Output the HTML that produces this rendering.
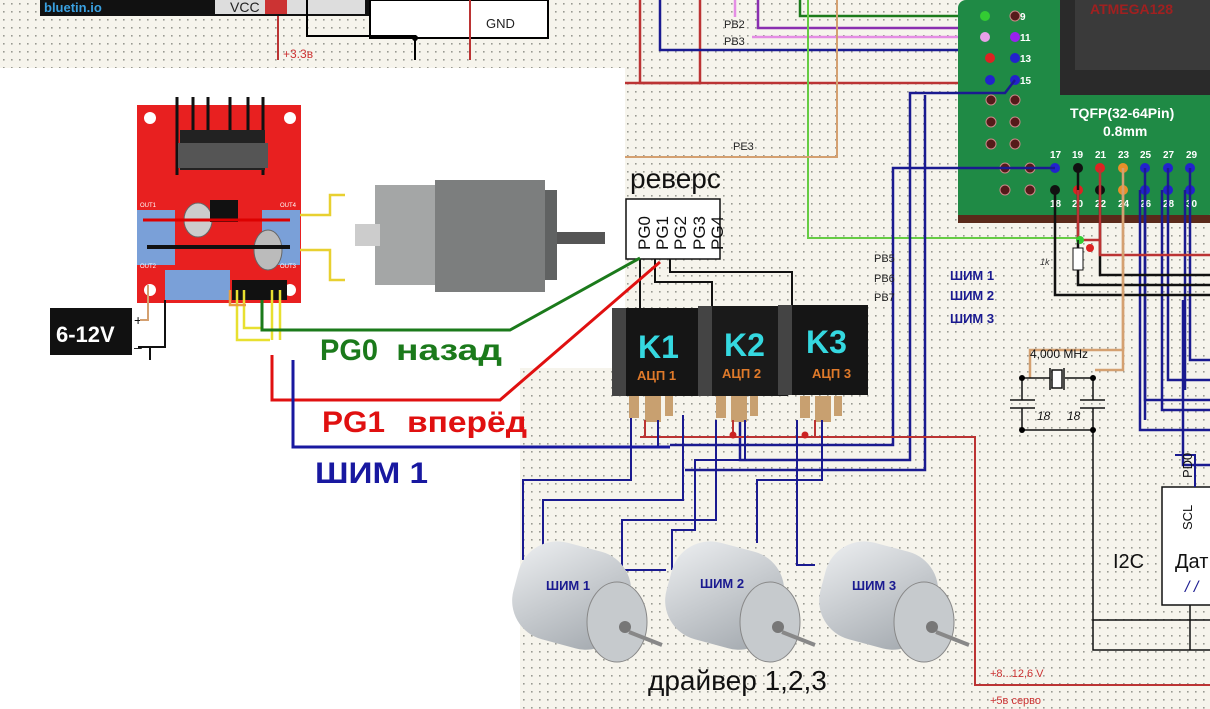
<!DOCTYPE html>
<html><head><meta charset="utf-8"><style>
html,body{margin:0;padding:0;width:1210px;height:709px;overflow:hidden;background:#fff}
svg{display:block}
text{font-family:"Liberation Sans",sans-serif}
</style></head><body>
<svg width="1210" height="709" viewBox="0 0 1210 709" xmlns="http://www.w3.org/2000/svg">
<defs>
<pattern id="dots" width="8" height="8" patternUnits="userSpaceOnUse">
<rect width="8" height="8" fill="#f6f4ec"/><rect x="3" y="3" width="1.6" height="1.6" fill="#9a9a92"/>
</pattern>
<linearGradient id="mg" x1="0" y1="0" x2="1" y2="1"><stop offset="0" stop-color="#eef0f2"/><stop offset="1" stop-color="#9ea4aa"/></linearGradient>
</defs>
<rect width="1210" height="709" fill="url(#dots)"/>
<rect x="0" y="68" width="625" height="300" fill="#fff"/>
<rect x="0" y="360" width="520" height="349" fill="#fff"/>

<!-- top left -->
<rect x="40" y="0" width="330" height="16" fill="#111"/>
<text x="44" y="12" font-size="13" font-weight="bold" fill="#3aa0e0">bluetin.io</text>
<rect x="215" y="0" width="150" height="14" fill="#ddd"/>
<text x="230" y="12" font-size="14" fill="#222">VCC</text>
<rect x="265" y="0" width="22" height="14" fill="#c33"/>
<rect x="370" y="0" width="178" height="38" fill="#fff" stroke="#000" stroke-width="2"/>
<text x="486" y="28" font-size="13" fill="#222">GND</text>
<path d="M278 16V60 M470 0V60" stroke="#b33" stroke-width="2"/>
<path d="M307 0V36H415V60" stroke="#000" stroke-width="2" fill="none"/>
<circle cx="415" cy="38" r="3"/>
<text x="283" y="58" font-size="12" fill="#c33">+3.3в</text>

<!-- top right wires -->
<path d="M640 0V83H960" stroke="#b33" stroke-width="2.5" fill="none"/>
<path d="M625 83H700V0" stroke="#b33" stroke-width="2.5" fill="none"/>
<path d="M660 0V50H1010V60" stroke="#1a1a90" stroke-width="2.5" fill="none"/>
<path d="M735 0V37H960" stroke="#e48de4" stroke-width="2.5" fill="none"/>
<path d="M758 0V28H1015" stroke="#8a2fb0" stroke-width="2.5" fill="none"/>
<path d="M800 0V16H960" stroke="#1b7a1b" stroke-width="2.5" fill="none"/>
<path d="M808 0V238H1080" stroke="#66cc44" stroke-width="2" fill="none"/>
<path d="M837 0V157H625" stroke="#d4a070" stroke-width="2" fill="none"/>
<rect x="722" y="17" width="30" height="30" fill="url(#dots)"/>
<text x="724" y="28" font-size="11" fill="#222">PB2</text>
<text x="724" y="45" font-size="11" fill="#222">PB3</text>
<text x="733" y="150" font-size="11" fill="#222">PE3</text>

<!-- PCB -->
<rect x="958" y="0" width="252" height="222" rx="8" fill="#1f8a45"/>
<rect x="1060" y="0" width="150" height="95" fill="#2a2a2a"/>
<rect x="1075" y="0" width="135" height="70" fill="#3a3a3a"/>
<text x="1090" y="14" font-size="14" font-weight="bold" fill="#a02020">ATMEGA128</text>
<text x="1070" y="118" font-size="14" font-weight="bold" fill="#fff">TQFP(32-64Pin)</text>
<text x="1103" y="136" font-size="14" font-weight="bold" fill="#fff">0.8mm</text>
<g fill="#551a1a" stroke="#c88" stroke-width="1">
<circle cx="1015" cy="16" r="5"/><circle cx="1015" cy="122" r="5"/><circle cx="991" cy="122" r="5"/>
<circle cx="991" cy="144" r="5"/><circle cx="1015" cy="144" r="5"/><circle cx="1015" cy="100" r="5"/><circle cx="991" cy="100" r="5"/>
<circle cx="1005" cy="190" r="5"/><circle cx="1030" cy="190" r="5"/><circle cx="1030" cy="168" r="5"/><circle cx="1005" cy="168" r="5"/>
</g>
<circle cx="985" cy="16" r="5" fill="#3c3"/><circle cx="985" cy="37" r="5" fill="#e8a0e8"/><circle cx="1015" cy="37" r="5" fill="#92e"/>
<circle cx="990" cy="58" r="5" fill="#d22"/><circle cx="1015" cy="58" r="5" fill="#22c"/><circle cx="990" cy="80" r="5" fill="#22c"/><circle cx="1015" cy="80" r="5" fill="#22c"/>
<g font-size="10" fill="#fff" font-weight="bold"><text x="1020" y="20">9</text><text x="1020" y="41">11</text><text x="1020" y="62">13</text><text x="1020" y="84">15</text>
<text x="1050" y="158">17</text><text x="1072" y="158">19</text><text x="1095" y="158">21</text><text x="1118" y="158">23</text><text x="1140" y="158">25</text><text x="1163" y="158">27</text><text x="1186" y="158">29</text>
<text x="1050" y="207">18</text><text x="1072" y="207">20</text><text x="1095" y="207">22</text><text x="1118" y="207">24</text><text x="1140" y="207">26</text><text x="1163" y="207">28</text><text x="1186" y="207">30</text></g>
<g>
<circle cx="1055" cy="168" r="5" fill="#22c"/><circle cx="1078" cy="168" r="5" fill="#111"/><circle cx="1100" cy="168" r="5" fill="#d22"/><circle cx="1123" cy="168" r="5" fill="#e8902a"/><circle cx="1145" cy="168" r="5" fill="#22c"/><circle cx="1168" cy="168" r="5" fill="#22c"/><circle cx="1190" cy="168" r="5" fill="#22c"/>
<circle cx="1055" cy="190" r="5" fill="#111"/><circle cx="1078" cy="190" r="5" fill="#d22"/><circle cx="1100" cy="190" r="5" fill="#111"/><circle cx="1123" cy="190" r="5" fill="#e8902a"/><circle cx="1145" cy="190" r="5" fill="#22c"/><circle cx="1168" cy="190" r="5" fill="#22c"/><circle cx="1190" cy="190" r="5" fill="#22c"/>
</g>
<rect x="958" y="215" width="252" height="8" fill="#5a2a1a"/>

<!-- right side wires -->
<g fill="none" stroke-width="2.5">
<path d="M1015 80L1005 93H910V460H740V420" stroke="#1a1a90"/>
<path d="M1055 168H893V445H670" stroke="#1a1a90"/>
<path d="M925 95V470H685" stroke="#1a1a90"/>
<path d="M1145 168V400H1210 M1168 168V380H1210 M1190 168V360H1210 M1140 190V430H1210 M1162 190V410H1210" stroke="#1a1a90"/>
<path d="M1145 190V420" stroke="#1a1a90"/>
<path d="M1185 190V390" stroke="#1a1a90"/>
<path d="M1078 168V285H1210" stroke="#111"/>
<path d="M1055 190V295H1210" stroke="#111"/>
<path d="M1100 190V275H1210" stroke="#111"/>
<path d="M1078 190V240H1100V255H1210" stroke="#b33"/>
<path d="M1100 168V255" stroke="#b33"/>
<path d="M1123 168V350H1030V378" stroke="#d4a070"/>
<path d="M1123 190V370H1095" stroke="#d4a070"/>
<path d="M1183 300V465H1210" stroke="#1a1a90"/>
</g>
<rect x="1073" y="248" width="10" height="22" fill="#fff" stroke="#111"/>
<circle cx="1080" cy="240" r="4" fill="#3c3"/><circle cx="1090" cy="248" r="4" fill="#d22"/>
<path d="M1078 240V248 M1078 270V280" stroke="#111" stroke-width="1.5"/>
<text x="1040" y="265" font-size="9" fill="#333" font-style="italic">1k</text>

<!-- crystal -->
<text x="1030" y="358" font-size="12" fill="#111">4,000 MHz</text>
<g stroke="#111" stroke-width="1.5" fill="none">
<path d="M1022 378H1050 M1065 378H1093"/>
<rect x="1052" y="370" width="10" height="18" fill="#fff"/>
<path d="M1050 368V390 M1064 368V390"/>
<path d="M1022 378V400 M1093 378V400 M1010 400H1035 M1010 408H1035 M1080 400H1105 M1080 408H1105 M1022 408V430H1093 M1093 408V620H1210"/>
</g>
<circle cx="1022" cy="378" r="3"/><circle cx="1093" cy="378" r="3"/><circle cx="1022" cy="430" r="3"/><circle cx="1093" cy="430" r="3"/>
<text x="1037" y="420" font-size="12" font-style="italic" fill="#111">18</text><text x="1067" y="420" font-size="12" font-style="italic" fill="#111">18</text>

<!-- I2C box -->
<rect x="1162" y="487" width="50" height="118" fill="#fff" stroke="#111" stroke-width="1.5"/>
<path d="M1175 455H1195V487" stroke="#1a1a90" stroke-width="2" fill="none"/>
<text transform="translate(1192,478) rotate(-90)" font-size="13" fill="#111">PD0</text>
<text transform="translate(1192,530) rotate(-90)" font-size="13" fill="#111">SCL</text>
<text x="1113" y="568" font-size="20" fill="#111">I2C</text>
<text x="1175" y="568" font-size="20" fill="#111">Дат</text>
<text x="1185" y="592" font-size="16" fill="#1a1a90" font-style="italic">/ /</text>
<path d="M1190 605V650 M1093 620V650H1210" stroke="#111" stroke-width="1.5" fill="none"/>

<path d="M640 437H975V685H1210" stroke="#b33" stroke-width="2" fill="none"/>
<text x="990" y="677" font-size="11" fill="#c33">+8...12,6 V</text>
<text x="990" y="704" font-size="11" fill="#c33">+5в  серво</text>

<text x="874" y="262" font-size="11" fill="#222">PB5</text>
<text x="874" y="282" font-size="11" fill="#222">PB6</text>
<text x="874" y="301" font-size="11" fill="#222">PB7</text>
<g font-size="13" font-weight="bold" fill="#1a1a90"><text x="950" y="280">ШИМ 1</text><text x="950" y="300">ШИМ 2</text><text x="950" y="323">ШИМ 3</text></g>

<text x="630" y="188" font-size="28" fill="#111">реверс</text>
<rect x="626" y="199" width="94" height="60" fill="#fff" stroke="#111" stroke-width="1.5"/>
<g font-size="17" fill="#111">
<text transform="translate(650,250) rotate(-90)">PG0</text>
<text transform="translate(668,250) rotate(-90)">PG1</text>
<text transform="translate(686,250) rotate(-90)">PG2</text>
<text transform="translate(705,250) rotate(-90)">PG3</text>
<text transform="translate(723,250) rotate(-90)">PG4</text>
</g>
<g stroke="#111" stroke-width="2" fill="none">
<path d="M640 259V310 M655 259V282H712V310 M670 259V272H792V310"/>
</g>

<g>
<rect x="612" y="308" width="90" height="88" fill="#151515"/>
<rect x="612" y="308" width="14" height="88" fill="#444"/>
<rect x="698" y="306" width="90" height="90" fill="#1a1a1a"/>
<rect x="698" y="306" width="14" height="90" fill="#444"/>
<rect x="778" y="305" width="90" height="90" fill="#151515"/>
<rect x="778" y="305" width="14" height="90" fill="#444"/>
<g font-size="32" font-weight="bold" fill="#35d8e0"><text x="638" y="358">K1</text><text x="724" y="356">K2</text><text x="806" y="353">K3</text></g>
<g font-size="13" font-weight="bold" fill="#e07a2a"><text x="637" y="380">АЦП 1</text><text x="722" y="378">АЦП 2</text><text x="812" y="378">АЦП 3</text></g>
<g fill="#c8a070"><rect x="629" y="396" width="10" height="22"/><rect x="645" y="396" width="16" height="26"/><rect x="665" y="396" width="8" height="20"/>
<rect x="716" y="396" width="10" height="22"/><rect x="731" y="396" width="16" height="26"/><rect x="750" y="396" width="8" height="20"/>
<rect x="800" y="396" width="10" height="22"/><rect x="815" y="396" width="16" height="26"/><rect x="834" y="396" width="8" height="20"/></g>
</g>
<g stroke="#1a1a90" stroke-width="2" fill="none">
<path d="M631 418V480H523V560 M683 415V500H543V545 M658 420V447 M716 420V520H622V570H666 M745 420V460H695V530H672V570 M797 420V565H815 M822 420V480H757V543"/>
</g>
<path d="M645 420V437 M733 420V437 M815 420V437" stroke="#b33" stroke-width="2"/>
<circle cx="733" cy="435" r="3.5" fill="#c22"/><circle cx="805" cy="435" r="3.5" fill="#c22"/>

<g>
<g transform="translate(515,545)"><rect x="0" y="0" width="115" height="100" rx="40" fill="url(#mg)" transform="rotate(15 55 47)"/><ellipse cx="102" cy="77" rx="30" ry="40" fill="#c6cacd" stroke="#888"/><circle cx="110" cy="82" r="6" fill="#777"/><path d="M114 87L147 100" stroke="#888" stroke-width="4"/></g>
<g transform="translate(668,545)"><rect x="0" y="0" width="115" height="100" rx="40" fill="url(#mg)" transform="rotate(15 55 47)"/><ellipse cx="102" cy="77" rx="30" ry="40" fill="#c6cacd" stroke="#888"/><circle cx="110" cy="82" r="6" fill="#777"/><path d="M114 87L147 100" stroke="#888" stroke-width="4"/></g>
<g transform="translate(822,545)"><rect x="0" y="0" width="115" height="100" rx="40" fill="url(#mg)" transform="rotate(15 55 47)"/><ellipse cx="102" cy="77" rx="30" ry="40" fill="#c6cacd" stroke="#888"/><circle cx="110" cy="82" r="6" fill="#777"/><path d="M114 87L147 100" stroke="#888" stroke-width="4"/></g>
<g font-size="13" font-weight="bold" fill="#1a1a90"><text x="546" y="590">ШИМ 1</text><text x="700" y="588">ШИМ 2</text><text x="852" y="590">ШИМ 3</text></g>
</g>
<text x="648" y="690" font-size="28" fill="#111">драйвер 1,2,3</text>

<!-- L298N -->
<rect x="137" y="105" width="164" height="198" fill="#e82020"/>
<g stroke="#111" stroke-width="3"><path d="M177 97V175 M193 97V130 M208 97V130 M230 97V130 M248 97V130 M263 97V175"/></g>
<rect x="180" y="130" width="85" height="40" fill="#222"/><rect x="178" y="143" width="90" height="25" fill="#555"/>
<rect x="137" y="210" width="38" height="55" fill="#7aa0d8"/><rect x="262" y="210" width="38" height="55" fill="#7aa0d8"/>
<rect x="165" y="270" width="65" height="30" fill="#7aa0d8"/>
<ellipse cx="198" cy="220" rx="14" ry="17" fill="#ccc" stroke="#666"/><ellipse cx="268" cy="250" rx="14" ry="20" fill="#bbb" stroke="#666"/>
<rect x="210" y="200" width="28" height="22" fill="#111"/>
<g fill="#fff"><circle cx="150" cy="118" r="6"/><circle cx="290" cy="118" r="6"/><circle cx="150" cy="290" r="6"/><circle cx="290" cy="290" r="6"/></g>
<path d="M143 220H290" stroke="#d00" stroke-width="3"/><path d="M147 247H290" stroke="#111" stroke-width="4"/>
<g font-size="6" fill="#fff"><text x="140" y="207">OUT1</text><text x="280" y="207">OUT4</text><text x="140" y="268">OUT2</text><text x="280" y="268">OUT3</text></g>
<path d="M300 215H330V195H345 M300 250H330V280H345" stroke="#e8d030" stroke-width="2.5" fill="none"/>
<rect x="375" y="185" width="60" height="100" fill="#a4a6a6"/><rect x="435" y="180" width="110" height="112" fill="#7c7e7e"/><rect x="545" y="190" width="12" height="90" fill="#606262"/>
<rect x="557" y="232" width="48" height="12" fill="#555"/>
<rect x="355" y="224" width="25" height="22" fill="#ccc"/>
<rect x="232" y="280" width="55" height="20" fill="#111"/>
<path d="M237 290V340H270 M244 290V328H262 M272 290V340 M280 290V340" stroke="#e8e030" stroke-width="2.5" fill="none"/>
<path d="M230 290V305H246" stroke="#e8a040" stroke-width="2.5" fill="none"/>
<rect x="50" y="308" width="82" height="47" fill="#111"/>
<text x="56" y="342" font-size="22" font-weight="bold" fill="#fff">6-12V</text>
<text x="134" y="325" font-size="14" fill="#111">+</text><text x="134" y="352" font-size="14" fill="#111">–</text>
<path d="M140 320H148V285" stroke="#d4a070" stroke-width="2" fill="none"/>
<path d="M138 347H165V300 M150 347V360" stroke="#111" stroke-width="2" fill="none"/>

<path d="M262 300V330H510L640 258" stroke="#1b7a1b" stroke-width="3" fill="none"/>
<path d="M272 355V400H500L660 262" stroke="#e01010" stroke-width="3" fill="none"/>
<path d="M293 360V447H670" stroke="#1818a0" stroke-width="3" fill="none"/>
<g font-size="30" font-weight="bold">
<text x="320" y="360" fill="#1b7a1b" textLength="58" lengthAdjust="spacingAndGlyphs">PG0</text><text x="396" y="360" fill="#1b7a1b" textLength="106" lengthAdjust="spacingAndGlyphs">назад</text>
<text x="322" y="432" fill="#e01010" textLength="63" lengthAdjust="spacingAndGlyphs">PG1</text><text x="407" y="432" fill="#e01010" textLength="120" lengthAdjust="spacingAndGlyphs">вперёд</text>
</g>
<text x="315" y="483" font-size="30" font-weight="bold" fill="#1818a0" textLength="113" lengthAdjust="spacingAndGlyphs">ШИМ 1</text>
</svg>
</body></html>
